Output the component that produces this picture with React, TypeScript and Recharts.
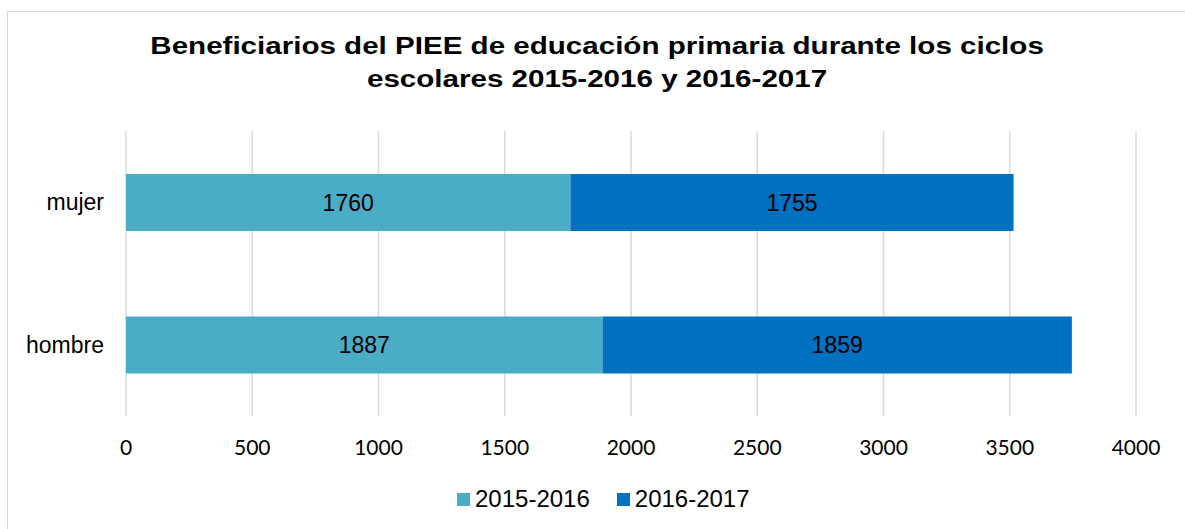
import React from 'react';
import { BarChart, Bar, XAxis, YAxis, CartesianGrid, LabelList } from 'recharts';

const categories = ['mujer', 'hombre'];
const seriesNames = ['2015-2016', '2016-2017'];
const values2015 = [1760, 1887];
const values2016 = [1755, 1859];
const xTicks = [0, 500, 1000, 1500, 2000, 2500, 3000, 3500, 4000];
const colors = ['#4BACC6', '#0070C0'];

const data = categories.map((c, i) => ({
  name: c,
  s1: values2015[i],
  s2: values2016[i],
}));

const arial = '"Liberation Sans", Arial, sans-serif';

export default function App() {
  return (
    <div style={{ position: 'absolute', left: 0, top: 0, width: 1185, height: 529, overflow: 'hidden', background: '#fff' }}>
      <div style={{ position: 'absolute', left: 7, top: 11, width: 1200, height: 540, border: '1.5px solid #d9d9d9' }} />
      <div
        style={{
          position: 'absolute', left: 0, top: 30, width: 1195, textAlign: 'center',
          fontFamily: arial, fontWeight: 'bold', fontSize: 23, lineHeight: '33px', color: '#000',
          transform: 'scaleX(1.285)', transformOrigin: '599px 0',
        }}
      >
        Beneficiarios del PIEE de educación primaria durante los ciclos
        <br />
        escolares 2015-2016 y 2016-2017
      </div>
      <div style={{ position: 'absolute', left: 0, top: 0 }}>
        <BarChart
          width={1185}
          height={529}
          data={data}
          layout="vertical"
          margin={{ top: 131, right: 49, left: 0, bottom: 73 }}
        >
          <CartesianGrid horizontal={false} stroke="#d9d9d9" strokeWidth={1.5} />
          <XAxis
            type="number"
            domain={[0, 4000]}
            ticks={xTicks}
            axisLine={false}
            tickLine={false}
            tickMargin={18}
            height={40}
            tick={{ fill: '#000', fontSize: 21, fontFamily: 'Lato, sans-serif' }}
          />
          <YAxis
            type="category"
            dataKey="name"
            width={126}
            axisLine={false}
            tickLine={false}
            tickMargin={16}
            tick={{ fill: '#000', fontSize: 23, fontFamily: arial }}
          />
          <Bar dataKey="s1" stackId="a" name={seriesNames[0]} fill={colors[0]} barSize={57} isAnimationActive={false}>
            <LabelList dataKey="s1" position="center" fill="#000" fontSize={23} fontFamily={arial} />
          </Bar>
          <Bar dataKey="s2" stackId="a" name={seriesNames[1]} fill={colors[1]} barSize={57} isAnimationActive={false}>
            <LabelList dataKey="s2" position="center" fill="#000" fontSize={23} fontFamily={arial} />
          </Bar>
        </BarChart>
      </div>
      <div
        style={{
          position: 'absolute', left: 457, top: 486, display: 'flex',
          fontFamily: arial, fontSize: 24, color: '#000', lineHeight: '26px',
        }}
      >
        {seriesNames.map((n, i) => (
          <div key={n} style={{ display: 'flex', alignItems: 'center', marginRight: i === 0 ? 27 : 0 }}>
            <span style={{ display: 'inline-block', width: 13, height: 13, background: colors[i], marginRight: 5 }} />
            <span>{n}</span>
          </div>
        ))}
      </div>
    </div>
  );
}
